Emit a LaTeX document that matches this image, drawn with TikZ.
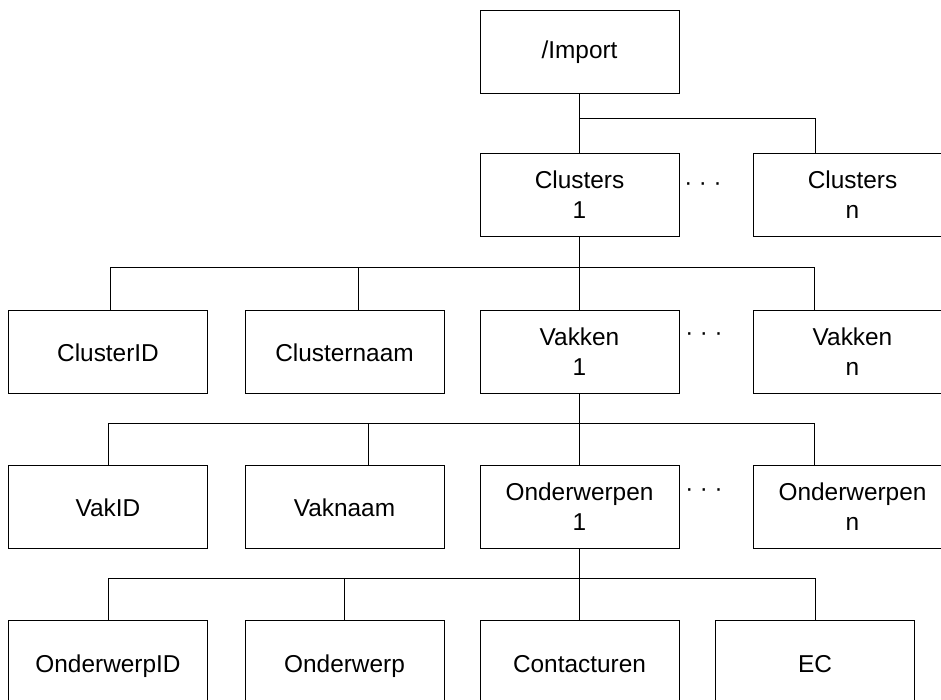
\documentclass[tikz,border=0pt]{standalone}
\usepackage{fontspec}
\setmainfont{Liberation Sans}
\begin{document}
\begin{tikzpicture}[x=1pt,y=-1pt,
  box/.style={draw=black,line width=0.9pt,minimum width=199pt,minimum height=83pt,inner sep=0pt,align=center,font=\fontsize{24.4}{30}\selectfont},
  one/.style={text height=20pt,text depth=0pt},
  ellip/.style={anchor=base,inner sep=0pt,font=\fontsize{24}{29}\selectfont},
  conn/.style={draw=black,line width=0.9pt}]
\useasboundingbox (0,0) rectangle (941,700);
\clip (0,0) rectangle (941,700);
\fill[white] (0,0) rectangle (941,700);
% row 1
\node[box,text height=20pt,text depth=6pt] (imp) at (579.5,51.5) {/Import};
% row 2
\node[box] (c1) at (579.5,195) {Clusters\\1};
\node[box] (cn) at (852.5,195) {Clusters\\n};
\node[ellip] (d1) at (703,191) {· · ·};
% row 3
\node[box,one] (cid) at (108,351.5) {ClusterID};
\node[box,one] (cnaam) at (344.5,351.5) {Clusternaam};
\node[box] (v1) at (579.5,351.5) {Vakken\\1};
\node[box] (vn) at (852.5,351.5) {Vakken\\n};
\node[ellip] (d2) at (704,340.5) {· · ·};
% row 4
\node[box,one] (vid) at (108,506.5) {VakID};
\node[box,one] (vnaam) at (344.5,506.5) {Vaknaam};
\node[box] (o1) at (579.5,506.5) {Onderwerpen\\1};
\node[box] (on) at (852.5,506.5) {Onderwerpen\\n};
\node[ellip] (d3) at (704,496) {· · ·};
% row 5
\node[box,one] (oid) at (108,662) {OnderwerpID};
\node[box,one] (ow) at (344.5,662) {Onderwerp};
\node[box,one] (ct) at (579.5,662) {Contacturen};
\node[box,one] (ec) at (815,662) {EC};
% bus coordinates
\coordinate (bus1) at (579.5,118);
\coordinate (bus2) at (579.5,267);
\coordinate (bus3) at (579.5,423);
\coordinate (bus4) at (579.5,578);
% connectors
\draw[conn] (imp.south) -- (c1.north);
\draw[conn] (bus1) -| ([xshift=-37.5pt]cn.north);
\draw[conn] (c1.south) -- (v1.north);
\draw[conn] (bus2) -| ([xshift=2pt]cid.north);
\draw[conn] (bus2) -| ([xshift=13.5pt]cnaam.north);
\draw[conn] (bus2) -| ([xshift=-38.5pt]vn.north);
\draw[conn] (v1.south) -- (o1.north);
\draw[conn] (bus3) -| (vid.north);
\draw[conn] (bus3) -| ([xshift=23.5pt]vnaam.north);
\draw[conn] (bus3) -| ([xshift=-38.5pt]on.north);
\draw[conn] (o1.south) -- (ct.north);
\draw[conn] (bus4) -| (oid.north);
\draw[conn] (bus4) -| (ow.north);
\draw[conn] (bus4) -| (ec.north);
\end{tikzpicture}
\end{document}
